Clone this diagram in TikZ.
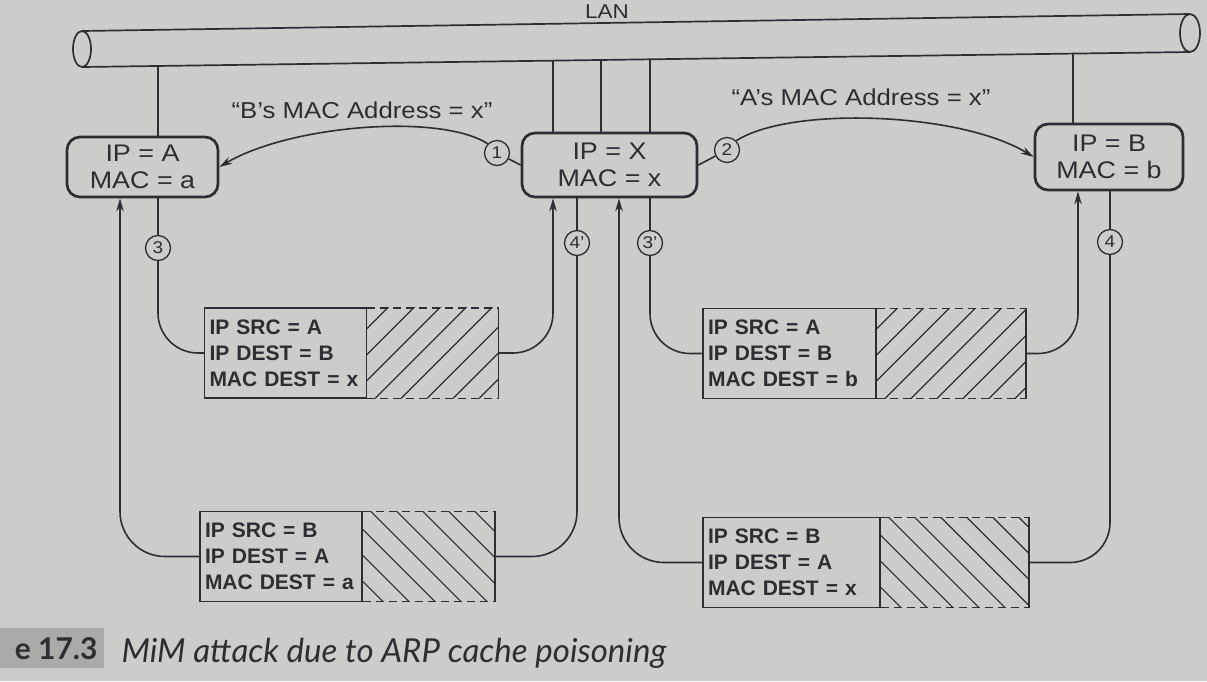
\documentclass[tikz,border=0pt]{standalone}
\usepackage{fontspec}
\setmainfont{Liberation Sans}
\newfontfamily\hostfont[FakeStretch=1.12]{Liberation Sans}
\newfontfamily\pktfont[FakeStretch=1.0]{Liberation Sans}
\newfontfamily\capfont{Lato}
\usetikzlibrary{arrows.meta,calc}
\definecolor{paper}{RGB}{204,204,202}
\definecolor{ink}{RGB}{45,45,50}
\definecolor{capbox}{RGB}{170,170,168}
\begin{document}
\begin{tikzpicture}[x=1pt,y=-1pt,
  host/.style={draw=ink, line width=2.7pt, rounded corners=13pt, align=center, text=ink, inner sep=0pt,
    font=\hostfont\fontsize{24}{27}\selectfont},
  pkt/.style={draw=ink, line width=1.4pt, align=left, text=ink, inner xsep=5pt, inner ysep=0pt,
    minimum height=90pt, font=\pktfont\bfseries\fontsize{21}{26}\selectfont},
  hatchbox/.style={inner sep=0pt, minimum height=90pt, anchor=west},
  conn/.style={draw=ink, line width=1.6pt},
  arr/.style={conn, -{Stealth[length=13pt,width=7.5pt]}},
  pipe/.style={draw=ink, line width=1.7pt},
  num/.style={circle, draw=ink, line width=1.3pt, inner sep=0pt, minimum size=25pt, text=ink,
    font=\hostfont\fontsize{17}{17}\selectfont},
  lbl/.style={text=ink, font=\hostfont\fontsize{23}{27}\selectfont},
]
\useasboundingbox (0,0) rectangle (1207,681);
\fill[paper] (0,0) rectangle (1207,681);

% LAN pipe
\coordinate (pTL) at (82,31); \coordinate (pTR) at (1190,14);
\coordinate (pBL) at (82,67); \coordinate (pBR) at (1190,52);
\draw[pipe] (pTL) -- (pTR);
\draw[pipe] (pBL) -- (pBR);
\draw[pipe] (82,49) ellipse [x radius=9, y radius=18];
\draw[pipe] (1190,33) ellipse [x radius=10, y radius=19];
\node[lbl, font=\hostfont\fontsize{20}{20}\selectfont] (lan) at (607,12) {LAN};

% hosts
\node[host, minimum width=151pt, minimum height=60pt] (A) at (142.5,167) {IP = A\\MAC = a};
\node[host, minimum width=175pt, minimum height=64pt] (X) at (609.5,165) {IP = X\\MAC = x};
\node[host, minimum width=148pt, minimum height=66pt] (B) at (1109,157) {IP = B\\MAC = b};

% drops from LAN
\coordinate (lA) at ($(pBL)!0.0686!(pBR)$);
\coordinate (lX1) at ($(pBL)!0.4251!(pBR)$);
\coordinate (lX2) at ($(pBL)!0.4684!(pBR)$);
\coordinate (lX3) at ($(pBL)!0.5126!(pBR)$);
\coordinate (lB) at ($(pBL)!0.8944!(pBR)$);
\draw[conn] (lA) -- (lA |- A.north);
\draw[conn] (lX1) -- (lX1 |- X.north);
\draw[conn] (lX2) -- (lX2 |- X.north);
\draw[conn] (lX3) -- (lX3 |- X.north);
\draw[conn] (lB) -- (lB |- B.north);

% ARP replies
\node[num] (c1) at (497,153) {1};
\node[num] (c2) at (727,150) {2};
\draw[conn] (c1) -- (X.west);
\draw[conn] (c2) -- (X.east);
\draw[arr] (c1.north west) .. controls (440,113) and (290,125) .. (A.east);
\draw[arr] (c2.north east) .. controls (790,106) and (960,112) .. (B.west);
\node[lbl] (lab1) at (362,110) {“B’s MAC Address = x”};
\node[lbl] (lab2) at (861,97) {“A’s MAC Address = x”};

% packets
\node[pkt, text width=152pt] (P1) at (285.5,353) {IP SRC = A\\IP DEST = B\\MAC DEST = x};
\node[hatchbox, minimum width=131pt] (P1h) at (P1.east) {};
\node[pkt, text width=163pt] (P2) at (789.5,353.5) {IP SRC = A\\IP DEST = B\\MAC DEST = b};
\node[hatchbox, minimum width=149pt] (P2h) at (P2.east) {};
\node[pkt, text width=152pt] (P3) at (281,556.5) {IP SRC = B\\IP DEST = A\\MAC DEST = a};
\node[hatchbox, minimum width=132pt] (P3h) at (P3.east) {};
\node[pkt, text width=167pt] (P4) at (791.5,562.5) {IP SRC = B\\IP DEST = A\\MAC DEST = x};
\node[hatchbox, minimum width=148pt] (P4h) at (P4.east) {};

\foreach \n in {P1h,P2h}{
  \begin{scope}
    \clip (\n.south west) rectangle (\n.north east);
    \foreach \k in {-4,...,6}
      \draw[ink, line width=1.2pt] ($(\n.south west)+(\k*26+8,0)$) -- ++(110,-110);
  \end{scope}
}
\foreach \n in {P3h,P4h}{
  \begin{scope}
    \clip (\n.south west) rectangle (\n.north east);
    \foreach \k in {-4,...,6}
      \draw[ink, line width=1.2pt] ($(\n.north west)+(\k*26+8,0)$) -- ++(110,110);
  \end{scope}
}
\foreach \n in {P1h,P2h,P3h,P4h}{
  \draw[ink, line width=1.4pt, dash pattern=on 8pt off 5pt] (\n.north west) -- (\n.north east);
  \draw[ink, line width=1.4pt, dash pattern=on 8pt off 5pt] (\n.south west) -- (\n.south east);
  \draw[ink, line width=1.4pt] (\n.north east) -- (\n.south east);
}

% step circles on the host legs
\node[num] (c3) at (158,248) {3};
\node[num] (c4p) at (577,243) {4’};
\node[num] (c3p) at (650,243) {3’};
\node[num] (c4) at (1110,242) {4};

% step 3: A -> X
\draw[conn] (c3 |- A.south) -- (c3.north);
\draw[conn, rounded corners=40pt] (c3.south) |- (P1.west);
\draw[arr, rounded corners=40pt] (P1h.east) -| (553,0 |- X.south);
% step 3': X -> B
\draw[conn] (c3p |- X.south) -- (c3p.north);
\draw[conn, rounded corners=40pt] (c3p.south) |- (P2.west);
\draw[arr, rounded corners=40pt] (P2h.east) -| (1078,0 |- B.south);
% step 4: B -> X
\draw[conn] (c4 |- B.south) -- (c4.north);
\draw[conn, rounded corners=40pt] (c4.south) |- (P4h.east);
\draw[arr, rounded corners=45pt] (P4.west) -| (619,0 |- X.south);
% step 4': X -> A
\draw[conn] (c4p |- X.south) -- (c4p.north);
\draw[conn, rounded corners=45pt] (c4p.south) |- (P3h.east);
\draw[arr, rounded corners=45pt] (P3.west) -| (120,0 |- A.south);

% caption
\fill[capbox] (0,628) rectangle (104,668);
\node[anchor=east, text=ink, font=\capfont\bfseries\fontsize{30}{30}\selectfont] (fig) at (101,649) {e 17.3};
\node[anchor=west, text=ink, font=\capfont\itshape\fontsize{33}{33}\selectfont] (cap) at (118,653) {MiM attack due to ARP cache poisoning};
\end{tikzpicture}
\end{document}
